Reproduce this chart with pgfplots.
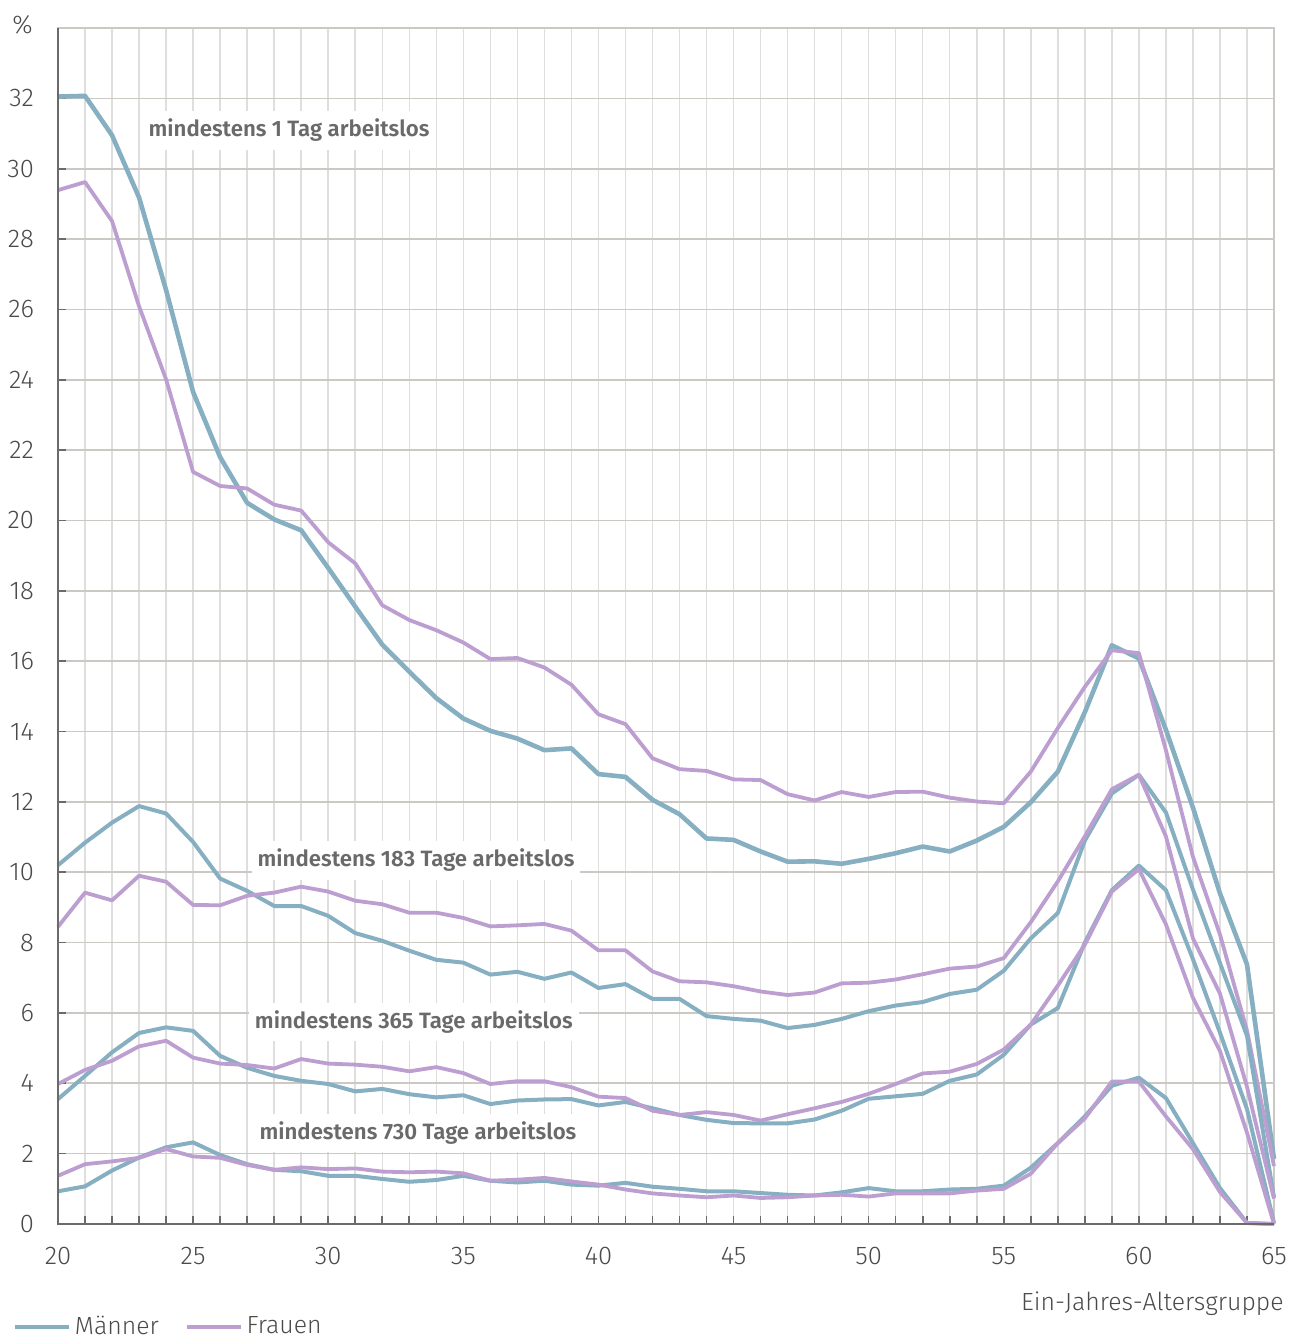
\documentclass[border=0pt]{standalone}
\usepackage{pgfplots}
\pgfplotsset{compat=1.18}
\usepackage{pgfplotstable}
\usepackage{fontspec}
\setmainfont{Fira Sans}[UprightFont=* Light, BoldFont=* SemiBold]
\definecolor{mblue}{HTML}{86AFC1}
\definecolor{fpurple}{HTML}{BC9FD0}
\definecolor{vgrid}{HTML}{DEDEDE}
\definecolor{hgrid}{HTML}{CCC8C4}
\definecolor{axisc}{HTML}{6A6A6A}
\definecolor{txt}{HTML}{4A4A4A}
\definecolor{lbl}{HTML}{6A6A6A}

\pgfplotstableread{
age m1 f1 m183 f183 m365 f365 m730 f730
20 32.05 29.39 10.20 8.45 3.55 3.98 0.93 1.37
21 32.07 29.62 10.84 9.42 4.21 4.38 1.07 1.70
22 30.95 28.51 11.41 9.20 4.88 4.64 1.52 1.78
23 29.18 26.09 11.88 9.90 5.43 5.05 1.89 1.88
24 26.55 24.01 11.67 9.73 5.59 5.21 2.18 2.13
25 23.65 21.38 10.86 9.07 5.49 4.73 2.32 1.92
26 21.80 20.98 9.82 9.06 4.78 4.56 1.96 1.88
27 20.50 20.91 9.47 9.33 4.44 4.52 1.70 1.68
28 20.03 20.45 9.04 9.42 4.21 4.42 1.54 1.54
29 19.72 20.28 9.04 9.59 4.07 4.69 1.50 1.61
30 18.65 19.38 8.76 9.45 3.98 4.56 1.37 1.56
31 17.55 18.78 8.27 9.19 3.77 4.53 1.37 1.58
32 16.47 17.59 8.05 9.09 3.84 4.47 1.28 1.49
33 15.70 17.17 7.77 8.85 3.69 4.34 1.20 1.47
34 14.95 16.88 7.51 8.85 3.60 4.46 1.25 1.49
35 14.37 16.53 7.43 8.70 3.66 4.29 1.37 1.44
36 14.02 16.06 7.09 8.46 3.41 3.98 1.23 1.23
37 13.80 16.09 7.17 8.49 3.51 4.06 1.18 1.26
38 13.47 15.82 6.97 8.53 3.54 4.06 1.23 1.31
39 13.52 15.33 7.15 8.34 3.55 3.89 1.12 1.21
40 12.79 14.49 6.71 7.78 3.37 3.62 1.09 1.12
41 12.71 14.21 6.82 7.78 3.47 3.58 1.17 0.98
42 12.06 13.24 6.40 7.18 3.29 3.22 1.06 0.87
43 11.65 12.93 6.40 6.90 3.10 3.10 1.00 0.81
44 10.96 12.88 5.91 6.87 2.96 3.18 0.93 0.76
45 10.92 12.64 5.83 6.76 2.87 3.10 0.93 0.81
46 10.59 12.62 5.78 6.61 2.86 2.94 0.88 0.74
47 10.30 12.22 5.57 6.51 2.86 3.12 0.83 0.76
48 10.31 12.04 5.66 6.58 2.97 3.29 0.81 0.81
49 10.24 12.28 5.83 6.84 3.22 3.47 0.90 0.83
50 10.38 12.14 6.05 6.86 3.56 3.70 1.02 0.78
51 10.54 12.28 6.21 6.95 3.63 3.98 0.93 0.87
52 10.73 12.29 6.31 7.10 3.70 4.28 0.93 0.87
53 10.59 12.12 6.54 7.26 4.07 4.33 0.98 0.87
54 10.90 12.01 6.66 7.32 4.25 4.55 1.00 0.95
55 11.29 11.96 7.20 7.56 4.81 4.96 1.09 1.00
56 11.99 12.86 8.12 8.58 5.67 5.67 1.60 1.43
57 12.86 14.10 8.84 9.74 6.14 6.78 2.30 2.30
58 14.55 15.27 10.90 11.02 8.00 7.94 3.06 3.00
59 16.45 16.31 12.24 12.36 9.49 9.45 3.93 4.05
60 16.08 16.23 12.77 12.77 10.19 10.09 4.16 4.05
61 14.05 13.47 11.70 11.02 9.49 8.52 3.58 3.06
62 11.84 10.44 9.51 8.12 7.53 6.43 2.30 2.13
63 9.40 8.23 7.42 6.55 5.44 4.92 1.02 0.91
64 7.38 5.50 5.35 3.90 3.27 2.60 0.03 0.03
65 1.85 1.65 0.76 0.72 0.03 0.00 0.00 0.00
}\data

\begin{document}
\begin{tikzpicture}
\useasboundingbox (-29pt,-58pt) rectangle (616pt,612pt);
\begin{axis}[
  at={(0,0)}, anchor=south west,
  scale only axis, width=608pt, height=598pt,
  clip=false,
  xmin=20, xmax=65, ymin=0, ymax=34,
  xtick={20,25,...,65}, minor x tick num=4,
  ytick={0,2,...,32},
  grid=both,
  major x grid style={vgrid, line width=0.75pt},
  minor x grid style={vgrid, line width=0.75pt},
  major y grid style={hgrid, line width=0.8pt},
  axis line style={hgrid, line width=0.8pt},
  tick pos=left, tick align=inside,
  major tick length=4pt, minor tick length=4pt,
  tick style={axisc, line width=0.8pt},
  /pgf/number format/assume math mode=true,
  ticklabel style={font=\fontsize{12.8}{14}\selectfont, text=txt},
  xticklabel style={yshift=-8pt},
  yticklabel style={xshift=-8.5pt},
  legend style={at={(rel axis cs:0,0)}, anchor=west, xshift=-23pt, yshift=-51.5pt,
    draw=none, fill=none, inner sep=0pt, font=\fontsize{12.4}{14}\selectfont, text=txt,
    /tikz/every even column/.append style={column sep=11pt}},
  legend columns=2,
  legend image code/.code={\draw[#1] (0pt,0pt) -- (27pt,0pt);},
]
\addplot[mblue, line width=2.3pt, line join=round] table[x=age,y=m1]{\data};
\addlegendentry{Männer}
\addplot[fpurple, line width=1.9pt, line join=round] table[x=age,y=f1]{\data};
\addlegendentry{Frauen}
\addplot[mblue, line width=2pt, line join=round, forget plot] table[x=age,y=m183]{\data};
\addplot[fpurple, line width=1.9pt, line join=round, forget plot] table[x=age,y=f183]{\data};
\addplot[mblue, line width=2pt, line join=round, forget plot] table[x=age,y=m365]{\data};
\addplot[fpurple, line width=1.9pt, line join=round, forget plot] table[x=age,y=f365]{\data};
\addplot[mblue, line width=2pt, line join=round, forget plot] table[x=age,y=m730]{\data};
\addplot[fpurple, line width=1.9pt, line join=round, forget plot] table[x=age,y=f730]{\data};

\draw[axisc, line width=0.9pt] (rel axis cs:0,1) -- (rel axis cs:0,0) -- (rel axis cs:1,0);

\tikzset{lab/.style={fill=white, inner xsep=3pt, inner ysep=4pt, text=lbl, font=\bfseries\fontsize{11.1}{13}\selectfont}}
\node[lab] at (axis cs:28.55,31.09) {mindestens 1 Tag arbeitslos};
\node[lab] at (axis cs:33.25,10.34) {mindestens 183 Tage arbeitslos};
\node[lab] at (axis cs:33.17,5.74) {mindestens 365 Tage arbeitslos};
\node[lab] at (axis cs:33.32,2.59) {mindestens 730 Tage arbeitslos};

\node[anchor=east, inner sep=0pt, text=txt, font=\fontsize{12.8}{14}\selectfont] at ([xshift=-12.5pt, yshift=1.5pt]rel axis cs:0,1) {\%};
\node[anchor=base east, inner sep=0pt, text=txt, font=\fontsize{12.4}{14}\selectfont] at ([xshift=5pt, yshift=-43pt]rel axis cs:1,0) {Ein-Jahres-Altersgruppe};
\end{axis}
\end{tikzpicture}
\end{document}
